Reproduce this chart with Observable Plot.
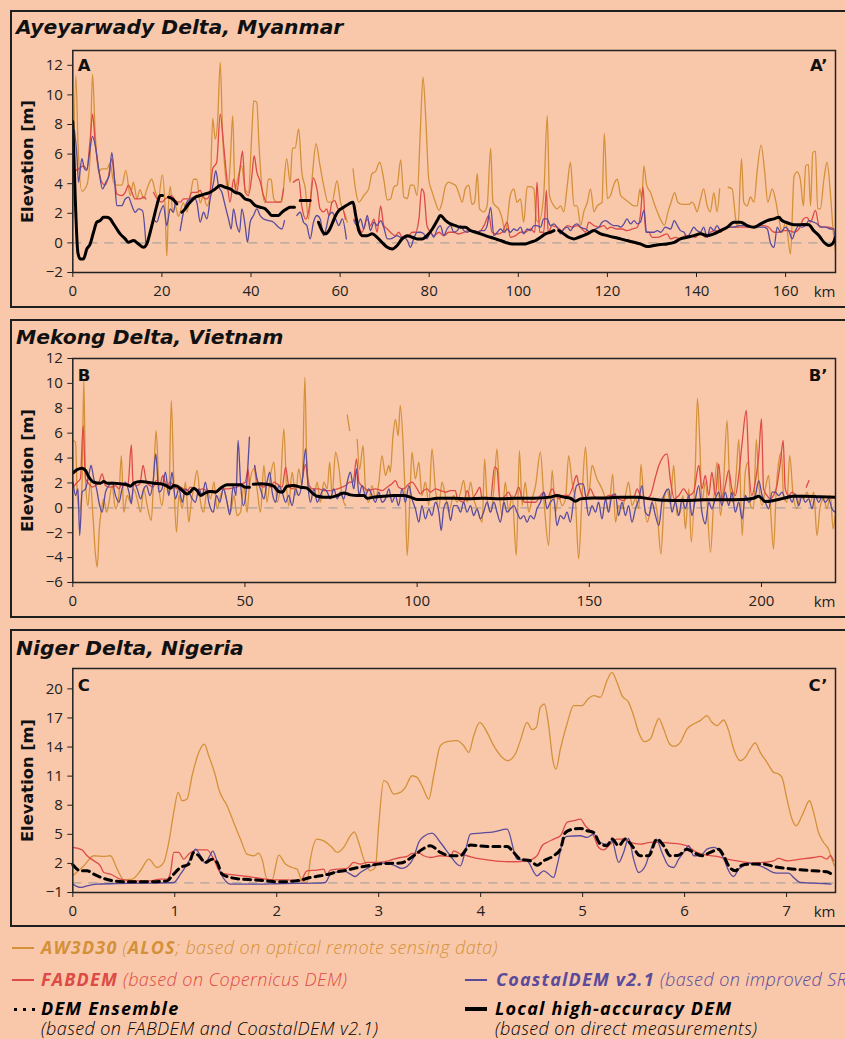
<!DOCTYPE html>
<html><head><meta charset="utf-8">
<script src="https://cdn.jsdelivr.net/npm/d3@7"></script>
<script src="https://cdn.jsdelivr.net/npm/@observablehq/plot@0.6"></script>
<style>
html,body{margin:0;padding:0;}
body{width:845px;height:1039px;background:#F9C8AB;overflow:hidden;position:relative;font-family:"Open Sans",sans-serif;}
.frame{position:absolute;left:10px;width:850px;border:2px solid #1f1f1f;box-sizing:border-box;}
.title{position:absolute;left:16px;font-family:"DejaVu Sans",sans-serif;font-weight:bold;font-style:italic;font-size:20.3px;line-height:18px;color:#111;white-space:nowrap;}
.plot{position:absolute;left:0;}
.plot svg{overflow:visible;}
.leg{position:absolute;font-family:"Open Sans",sans-serif;font-style:italic;font-weight:300;font-size:18px;line-height:18px;letter-spacing:0.4px;white-space:nowrap;}
.leg b{font-weight:bold;letter-spacing:1.2px;}
.sym{position:absolute;}
</style></head><body>
<div class="frame" style="top:10px;height:298px"></div>
<div class="frame" style="top:319px;height:299px"></div>
<div class="frame" style="top:629px;height:298px"></div>
<div class="title" style="top:18.2px">Ayeyarwady Delta, Myanmar</div>
<div class="title" style="top:328.2px">Mekong Delta, Vietnam</div>
<div class="title" style="top:639.2px">Niger Delta, Nigeria</div>
<div id="pA" class="plot" style="top:40px"></div>
<div id="pB" class="plot" style="top:348px"></div>
<div id="pC" class="plot" style="top:658px"></div>
<div id="legend"></div>
<script>
// ---------- colours ----------
const ORANGE = "#D4913A", RED = "#DE4A45", PURPLE = "#5A4B9B", BLACK = "#000000";

// ---------- Panel A : Ayeyarwady Delta (km, m) ----------
const A_xTicks = [0,20,40,60,80,100,120,140,160];
const A_yTicks = [-2,0,2,4,6,8,10,12];
const A_AW3D30 = [[0,1.7],[0.68,11.3],[1.2,6.5],[2.03,3.5],[3.15,3.9],[3.9,5.9],[4.42,11.4],[5.02,7.5],[5.77,4.8],[6.52,5.0],[7.64,5.0],[8.39,5.4],[9.14,4.1],[9.88,3.9],[11.0,3.9],[11.9,4.9],[12.9,3.2],[13.6,4.1],[14.4,3.0],[15.1,3.6],[15.9,3.0],[16.6,3.6],[17.7,4.3],[18.6,3.4],[19.2,3.0],[20.1,4.6],[20.7,2.5],[21.1,-0.9],[21.5,2.7],[21.9,3.8],[22.4,2.1],[23.0,2.5],[23.7,1.8],[24.8,2.7],[25.6,2.1],[26.3,3.0],[27.1,4.3],[27.8,4.3],[28.6,2.7],[29.3,3.2],[30.1,2.5],[30.8,3.2],[31.4,8.4],[32.0,7.0],[32.5,8.2],[33.1,12.2],[33.6,7.5],[34.2,4.8],[34.8,3.6],[35.3,5.2],[35.9,8.6],[36.4,3.6],[37.2,4.6],[37.9,5.2],[38.7,3.6],[39.4,3.4],[40.2,7.5],[40.6,9.6],[41.3,9.5],[41.8,6.6],[42.4,3.9],[43.2,2.7],[43.9,4.3],[44.5,4.3],[45.1,3.0],[45.8,2.75],[46.9,2.75],[48.0,5.7],[48.8,4.1],[49.3,6.4],[49.9,6.4],[50.7,7.7],[51.4,4.8],[52.2,3.65],[52.9,1.6],[53.7,4.3],[54.6,6.7],[55.5,5.2],[56.3,3.9],[57.3,2.75],[58.2,2.75],[59.3,4.2],[60.1,2.75],[61.0,2.0],[61.6,1.4],[62.2,null],[62.9,5.0],[63.45,3.65],[64.2,2.75],[65.3,3.2],[66.4,3.65],[67.2,4.7],[67.9,4.8],[68.9,5.45],[69.8,4.3],[70.6,2.9],[71.3,2.97],[72.1,3.8],[72.8,3.9],[73.6,5.6],[74.3,3.1],[75.1,3.0],[75.8,3.9],[76.5,3.9],[77.3,3.2],[78.0,7.5],[78.6,11.2],[79.2,8.6],[79.9,4.3],[80.7,3.4],[81.4,2.75],[82.2,2.2],[82.9,2.75],[83.7,3.9],[84.4,4.1],[85.2,4.0],[85.9,3.9],[86.6,3.4],[87.4,2.75],[88.1,3.65],[88.9,3.9],[89.6,2.6],[90.2,2.75],[90.8,4.7],[91.3,2.3],[92.3,2.1],[93.0,2.5],[93.8,6.4],[94.3,2.75],[94.9,2.5],[95.6,2.3],[96.4,1.6],[97.1,0.7],[98.2,3.2],[99.0,3.65],[99.7,2.75],[100.5,2.97],[101.2,1.4],[102.0,3.8],[102.7,3.8],[103.5,3.65],[104.0,1.6],[104.6,1.4],[105.7,3.2],[106.5,8.6],[107.0,3.2],[108.0,2.5],[108.7,2.3],[109.5,2.5],[110.2,2.1],[111.0,3.9],[111.7,5.45],[112.5,2.5],[113.2,2.5],[114.0,1.2],[114.7,2.1],[115.5,2.75],[116.2,3.65],[117.0,2.1],[117.7,2.5],[118.8,2.75],[119.3,7.4],[120.0,3.0],[120.7,3.2],[121.4,3.9],[122.2,4.3],[123.0,3.2],[123.7,3.0],[124.8,2.75],[126.0,2.5],[126.7,2.5],[127.3,3.65],[127.7,2.97],[128.2,5.2],[128.8,3.9],[129.7,3.4],[130.4,2.75],[131.2,2.1],[131.9,1.6],[132.8,1.2],[133.6,2.1],[134.3,2.75],[135.1,3.4],[135.8,2.75],[136.8,2.6],[138.3,2.6],[139.0,2.75],[139.6,2.5],[140.1,2.1],[140.9,2.97],[141.6,3.65],[142.4,2.5],[143.1,2.1],[143.9,3.4],[144.6,2.1],[145.2,3.65],[146.0,null],[147.1,3.76],[148.0,3.65],[148.8,1.6],[149.3,1.0],[150.1,5.7],[150.6,2.75],[151.4,2.5],[152.1,3.1],[152.9,2.75],[153.6,4.8],[154.5,6.6],[155.3,4.8],[156.0,2.75],[157.0,3.65],[157.7,2.97],[158.5,1.6],[159.2,0.7],[160.0,1.4],[161.1,-0.75],[161.9,4.5],[162.6,4.8],[163.3,4.3],[164.0,2.5],[164.5,5.2],[165.1,5.3],[165.6,2.5],[166.1,6.1],[166.7,6.2],[167.2,2.3],[167.8,2.3],[168.6,4.3],[169.3,5.45],[170.1,3.2],[170.7,0.7],[171.2,-0.6]];
const A_FABDEM = [[0.16,4.8],[1.28,5.0],[2.4,5.2],[3.15,5.0],[3.9,7.0],[4.42,8.7],[5.02,6.8],[5.77,5.0],[6.52,4.1],[7.27,3.9],[8.01,4.5],[8.76,5.7],[9.36,4.3],[9.88,3.3],[11.0,3.2],[11.76,3.42],[12.5,3.9],[13.25,3.42],[14.0,2.97],[15.1,2.97],[15.9,3.1],[16.4,2.97],[16.8,null],[18.1,3.42],[19.2,2.86],[20.0,2.75],[20.7,2.97],[21.5,3.1],[22.2,3.2],[23.0,2.86],[24.1,2.75],[24.85,2.97],[26.0,2.97],[26.7,3.42],[27.8,3.42],[28.6,3.54],[29.3,3.09],[30.1,2.97],[30.8,3.42],[31.4,5.0],[32.3,5.45],[33.1,8.7],[33.8,6.8],[34.6,4.3],[35.3,2.75],[36.1,4.3],[36.8,3.42],[37.6,5.2],[38.1,6.2],[38.7,3.42],[39.4,3.2],[40.2,4.55],[40.7,5.9],[41.3,4.8],[42.1,4.1],[42.8,3.2],[43.6,2.75],[44.3,2.75],[45.1,2.75],[45.8,2.75],[46.6,2.75],[47.3,3.65],[48.0,null],[49.5,4.1],[50.7,4.3],[51.4,2.5],[52.3,1.6],[53.3,2.75],[54.0,4.4],[54.8,3.65],[55.5,2.3],[56.3,2.1],[57.0,2.3],[57.5,1.85],[58.2,2.75],[58.8,2.86],[59.6,2.3],[60.5,2.3],[61.2,1.6],[62.0,null],[63.1,1.6],[63.8,1.4],[64.9,0.72],[66.1,1.6],[66.8,1.17],[67.6,1.6],[68.3,0.72],[69.1,2.5],[69.8,1.17],[70.6,0.94],[71.3,0.72],[72.4,0.49],[73.2,0.72],[73.9,0.38],[75.1,0.38],[76.2,0.72],[76.9,0.72],[77.7,1.62],[78.3,3.65],[78.8,3.42],[79.5,1.17],[80.3,0.72],[81.0,0.49],[82.2,0.72],[83.3,0.49],[84.4,0.72],[85.5,0.72],[86.6,0.6],[87.8,0.72],[88.9,0.83],[90.0,0.83],[91.1,0.72],[92.3,1.17],[93.4,1.85],[94.1,0.72],[95.3,0.6],[96.4,0.72],[97.5,1.4],[98.2,0.38],[99.4,0.49],[100.5,0.72],[101.6,0.72],[102.7,0.94],[103.7,0.72],[104.2,4.1],[104.8,0.72],[105.7,0.72],[106.3,3.54],[106.7,0.72],[107.6,1.17],[108.7,1.06],[109.8,0.83],[111.0,1.17],[112.1,1.06],[113.2,1.17],[114.3,0.94],[115.1,0.72],[115.8,1.40],[117.0,1.17],[118.1,1.06],[119.2,1.17],[120.0,0.94],[120.7,1.06],[122.2,0.94],[123.3,0.94],[124.4,0.83],[125.6,0.94],[126.7,1.06],[127.4,1.85],[128.0,3.76],[128.6,0.72],[129.3,0.72],[130.0,0.38],[131.2,0.38],[132.3,0.49],[133.4,0.61],[134.2,0.27],[135.3,0.38],[136.4,0.27],[137.5,0.49],[138.7,0.49],[139.8,0.38],[140.9,0.72],[142.0,0.38],[143.1,0.72],[144.3,0.83],[145.4,0.72],[146.5,1.0],[147.6,1.06],[149.1,1.06],[150.6,1.06],[152.1,1.06],[154.0,1.17],[155.1,1.17],[156.2,1.06],[157.4,0.72],[158.5,0.72],[159.6,0.83],[160.7,0.83],[161.9,0.72],[163.0,0.94],[164.0,1.62],[164.8,1.73],[165.6,1.40],[166.7,2.2],[167.5,1.17],[168.6,1.06],[169.7,1.06],[170.8,0.94]];
const A_CoastalDEM = [[0.38,7.6],[0.9,6.0],[1.28,4.1],[2.03,5.7],[2.63,5.0],[3.15,4.9],[3.67,5.9],[4.42,7.2],[5.17,6.35],[5.92,4.77],[6.67,3.65],[7.41,4.1],[8.16,4.55],[8.76,6.1],[9.36,4.33],[9.88,2.52],[11.0,2.52],[11.76,2.97],[12.5,3.09],[13.25,2.52],[14.0,2.07],[14.75,2.3],[15.65,2.18],[16.4,0.0],[16.8,null],[18.1,1.62],[18.86,1.4],[19.6,2.07],[20.36,2.52],[21.1,1.17],[21.86,2.3],[22.6,2.07],[23.0,2.75],[23.5,null],[24.1,0.83],[24.85,2.07],[25.6,2.75],[26.35,2.97],[27.1,3.09],[27.84,2.75],[28.6,1.4],[29.34,2.07],[30.1,1.62],[30.84,2.97],[31.6,4.1],[32.1,4.89],[32.7,3.87],[33.46,3.42],[34.2,2.52],[34.95,1.62],[35.55,0.94],[36.07,2.3],[36.82,1.17],[37.42,0.72],[37.94,2.3],[38.69,1.17],[39.21,0.04],[39.81,1.4],[40.56,1.85],[41.31,2.3],[42.06,1.85],[42.81,1.62],[43.93,1.51],[45.05,1.40],[46.17,1.06],[46.92,0.94],[47.52,1.51],[48.5,null],[50.29,1.85],[51.04,2.07],[51.79,1.40],[52.53,1.17],[53.28,0.27],[54.03,1.40],[54.78,1.85],[55.53,1.62],[56.28,0.49],[57.02,1.17],[57.5,1.85],[58.2,2.07],[59.0,1.62],[59.7,1.17],[60.5,1.62],[61.4,0.27],[62.0,null],[63.1,1.51],[63.8,1.17],[64.6,1.62],[65.3,0.94],[66.1,1.85],[66.8,0.83],[67.6,1.40],[68.3,1.17],[69.1,1.51],[69.8,1.06],[70.6,0.27],[71.3,0.27],[72.1,0.38],[72.8,0.49],[73.6,0.38],[74.3,0.38],[75.1,0.16],[75.8,-0.30],[76.5,0.27],[77.3,0.72],[78.0,0.72],[78.8,0.61],[79.5,0.27],[80.3,0.72],[81.0,0.38],[81.8,0.94],[82.5,1.17],[83.3,0.49],[84.0,0.94],[84.8,1.17],[85.5,0.72],[86.3,0.83],[87.0,1.17],[87.8,0.83],[88.5,0.72],[89.3,0.83],[90.0,0.72],[90.8,0.72],[91.5,0.83],[92.3,0.83],[93.0,1.17],[93.8,2.4],[94.5,0.49],[95.3,0.72],[96.0,0.94],[96.8,0.72],[97.5,0.94],[98.2,0.72],[99.0,0.94],[99.7,0.83],[100.5,1.06],[101.2,0.61],[102.0,0.94],[102.7,0.83],[103.5,1.17],[104.2,1.17],[105.0,1.06],[105.7,1.62],[106.5,1.62],[107.2,1.17],[108.0,1.28],[108.7,1.06],[109.5,0.61],[110.2,0.94],[111.0,1.06],[111.7,0.83],[112.5,1.17],[113.2,1.28],[114.0,1.06],[115.1,0.94],[116.2,0.72],[117.3,0.94],[118.1,1.06],[118.8,1.40],[119.6,1.51],[120.7,1.28],[121.4,1.17],[122.2,1.17],[123.0,1.06],[123.7,1.28],[124.4,1.62],[125.2,1.28],[126.0,1.51],[126.7,1.28],[127.4,1.40],[128.2,2.2],[128.8,0.72],[129.7,0.72],[130.4,0.72],[131.2,0.83],[132.0,0.72],[133.0,1.06],[134.2,0.94],[135.0,1.51],[135.7,1.17],[136.4,0.83],[137.2,0.72],[137.9,0.38],[138.7,0.72],[139.4,1.06],[140.1,0.83],[140.9,0.72],[141.6,1.06],[142.4,0.38],[143.1,1.06],[143.9,0.83],[144.6,1.17],[145.4,0.83],[146.1,0.94],[147.3,1.06],[148.4,1.06],[149.5,1.17],[150.6,1.17],[151.7,1.06],[152.9,1.06],[154.0,1.06],[155.1,1.06],[155.9,0.94],[156.6,0.0],[157.4,-0.30],[158.1,1.06],[158.9,0.72],[160.0,1.06],[160.7,0.83],[161.5,0.27],[162.2,0.83],[163.0,1.17],[163.7,1.06],[164.5,1.17],[165.2,1.51],[166.3,1.40],[167.1,1.28],[167.8,1.06],[169.0,1.06],[170.1,0.94],[170.8,0.94],[171.2,-0.2]];
const A_Local = [[0.0,8.2],[0.53,3.2],[1.13,-0.63],[1.65,-1.08],[2.4,-1.08],[3.15,-0.41],[3.9,-0.07],[4.65,0.72],[5.4,1.40],[6.14,1.51],[6.89,1.73],[7.64,1.73],[8.39,1.62],[9.14,1.28],[9.88,0.94],[10.63,0.61],[11.76,0.27],[12.5,0.04],[13.63,0.16],[14.75,-0.07],[15.87,-0.30],[16.62,-0.07],[17.37,0.72],[18.12,1.62],[18.86,2.52],[19.61,3.20],[20.14,3.20],[20.8,null],[21.48,3.09],[22.38,2.97],[23.35,2.63],[23.9,null],[24.48,2.07],[25.22,2.30],[25.97,2.63],[26.72,2.86],[27.47,3.09],[28.59,3.20],[29.71,3.31],[30.84,3.42],[31.96,3.65],[33.08,3.87],[34.2,3.76],[35.32,3.65],[36.45,3.42],[37.57,3.31],[38.69,2.97],[39.81,2.86],[40.94,2.52],[42.06,2.41],[43.18,2.30],[43.93,2.07],[44.68,1.85],[45.43,1.85],[46.17,1.85],[46.92,2.07],[48.04,2.30],[48.79,2.41],[49.76,2.41],[50.3,null],[51.04,2.86],[53.28,2.86],[54.2,null],[55.15,1.40],[56.65,0.61],[57.5,0.83],[58.2,1.28],[59.0,1.85],[59.7,2.18],[60.8,2.41],[61.96,2.63],[62.9,2.75],[63.5,1.85],[64.2,0.83],[65.0,0.49],[66.1,0.49],[67.2,0.61],[68.3,0.38],[69.4,0.04],[70.6,-0.30],[71.7,-0.41],[72.8,-0.18],[73.9,0.27],[75.1,0.49],[76.2,0.38],[77.3,0.27],[78.4,0.27],[79.5,0.49],[80.7,0.94],[81.8,1.51],[82.5,1.85],[83.7,1.51],[84.8,1.28],[85.9,1.17],[87.0,1.06],[88.1,1.06],[89.3,0.83],[90.4,0.72],[91.5,0.61],[92.6,0.49],[93.8,0.38],[94.9,0.27],[96.0,0.16],[97.1,0.04],[98.6,-0.07],[100.1,-0.07],[101.6,-0.07],[102.7,0.04],[103.9,0.16],[105.0,0.38],[106.1,0.61],[107.2,0.72],[108.0,0.83],[108.5,null],[109.1,0.83],[110.2,0.61],[111.3,0.38],[112.5,0.27],[113.6,0.38],[115.5,0.61],[117.0,0.83],[118.5,0.61],[120.0,0.49],[121.4,0.38],[123.0,0.27],[124.4,0.16],[126.0,0.04],[127.4,-0.07],[129.0,-0.25],[130.4,-0.18],[131.9,-0.11],[133.4,-0.07],[135.0,0.04],[136.4,0.27],[137.9,0.38],[139.4,0.49],[140.9,0.61],[142.4,0.49],[143.9,0.61],[145.4,0.83],[146.9,1.06],[148.4,1.40],[149.9,1.40],[151.4,1.17],[152.9,1.06],[154.4,1.28],[155.9,1.51],[157.4,1.62],[158.5,1.73],[159.2,1.51],[160.0,1.40],[161.1,1.28],[162.6,1.22],[164.1,1.25],[165.2,1.22],[166.3,0.83],[167.5,0.49],[168.6,0.04],[169.7,-0.18],[170.5,-0.07],[171.2,0.38]];

// ---------- Panel B : Mekong Delta (km, m) ----------
const B_xTicks = [0,50,100,150,200];
const B_yTicks = [-6,-4,-2,0,2,4,6,8,10,12];
const B_AW3D30 = [[0.1,5.41],[0.8,5.27],[1.3,0.99],[2.0,-0.35],[2.7,2.06],[3.2,10.36],[3.7,2.06],[4.4,0.18],[5.1,2.06],[5.9,-0.89],[6.6,-3.83],[7.1,-4.77],[7.7,-1.69],[8.2,-0.35],[9.0,0.72],[9.8,-0.35],[10.5,0.45],[11.4,1.79],[12.4,-0.08],[13.4,0.99],[14.1,4.20],[14.8,-0.35],[15.8,0.99],[16.8,0.45],[17.7,1.52],[18.7,0.72],[19.7,-0.35],[20.6,1.52],[21.6,0.18],[22.8,-1.02],[23.5,2.60],[24.2,6.21],[25.0,1.79],[25.9,0.18],[26.9,2.06],[27.9,0.99],[28.6,8.62],[29.3,2.60],[30.1,-1.96],[30.8,0.99],[31.8,-0.08],[32.7,2.06],[33.7,-1.15],[34.4,0.45],[35.1,1.52],[36.1,3.0],[37.1,0.45],[38.0,-0.35],[39.0,1.52],[40.0,0.72],[41.0,2.06],[41.9,-0.08],[42.9,0.99],[43.9,1.52],[44.8,0.45],[45.8,-0.35],[46.8,0.99],[47.7,-0.62],[48.7,-0.35],[49.7,1.79],[50.6,-0.35],[51.3,1.8],[52.6,3.13],[53.5,1.52],[54.5,-0.35],[55.5,3.40],[56.4,0.45],[57.4,2.60],[58.4,3.67],[59.3,0.45],[60.3,1.79],[61.3,6.35],[62.0,2.06],[62.7,0.18],[63.7,2.86],[64.7,0.99],[65.6,3.13],[66.6,1.79],[67.4,10.50],[68.0,3.13],[69.0,1.52],[70.0,0.99],[71.0,2.06],[71.9,0.45],[72.9,2.06],[73.9,1.52],[74.6,3.67],[75.3,0.99],[76.3,4.47],[77.2,3.40],[78.2,0.99],[79.2,0.18],[79.5,null],[79.7,7.47],[80.4,6.21],[80.6,null],[82.6,5.5],[83.3,3.1],[84.3,5.0],[85.0,1.52],[85.9,0.45],[86.9,1.79],[87.9,0.72],[88.9,2.06],[89.8,4.20],[90.8,2.6],[91.8,3.40],[92.2,2.86],[93.0,5.8],[93.7,7.1],[94.5,5.8],[95.1,8.22],[95.9,5.3],[96.6,0.45],[97.1,-3.83],[97.9,0.72],[98.5,4.47],[99.5,2.33],[100.5,3.67],[101.4,0.99],[102.4,2.06],[103.4,0.18],[104.3,4.74],[105.3,1.52],[106.3,-0.08],[107.2,2.06],[108.2,0.99],[109.2,-0.35],[110.6,0.99],[111.6,0.45],[112.6,1.26],[113.5,2.2],[114.5,0.45],[115.5,2.06],[116.4,0.72],[117.4,-0.08],[118.9,-1.15],[119.6,3.94],[120.3,0.72],[121.3,-0.35],[122.3,1.52],[123.2,4.74],[124.0,0.72],[124.7,-0.62],[125.6,2.06],[126.6,-0.35],[127.6,0.99],[128.8,-3.83],[129.7,4.6],[130.5,0.18],[131.4,2.06],[132.4,-0.35],[133.4,0.72],[134.4,1.79],[135.8,4.47],[136.8,0.72],[138.2,-3.03],[139.2,3.0],[140.2,-0.35],[141.1,0.99],[142.1,0.18],[143.1,0.72],[144.0,4.20],[145.0,2.06],[146.0,0.45],[146.9,-4.10],[147.9,0.99],[148.9,4.9],[149.8,0.99],[150.8,3.40],[152.2,2.33],[153.7,1.52],[154.7,0.72],[155.6,-0.35],[156.8,2.7],[157.6,-1.15],[158.5,0.18],[159.5,-0.08],[160.5,0.99],[161.4,2.06],[162.4,0.18],[163.4,0.72],[164.4,-0.08],[165.0,3.5],[165.8,0.72],[166.8,-1.15],[167.7,-0.35],[168.7,0.72],[169.7,-0.35],[170.8,-3.7],[171.8,0.72],[172.6,1.52],[173.5,0.3],[174.5,3.40],[175.5,-0.62],[176.4,-0.35],[177.2,0.99],[177.9,-1.69],[178.9,1.52],[179.6,-2.76],[180.8,3.40],[181.4,8.8],[182.1,5.14],[182.7,0.45],[183.7,2.06],[185.2,-3.57],[186.1,0.45],[187.1,3.67],[188.1,-0.62],[189.0,2.06],[190.0,7.0],[190.8,1.79],[191.7,0.45],[192.7,2.86],[193.4,5.5],[194.4,-2.22],[195.3,2.86],[196.1,3.67],[196.8,0.18],[197.7,-0.08],[198.5,5.5],[199.2,2.06],[200.2,0.18],[201.1,1.52],[202.1,2.60],[202.8,-0.89],[203.5,-3.3],[204.3,1.52],[205.0,3.67],[205.8,4.47],[206.4,0.99],[207.4,0.45],[208.2,4.20],[209.2,0.99],[210.3,-0.08],[211.3,0.99],[212.3,0.72],[213.2,1.26],[214.2,0.45],[215.2,1.26],[216.1,-2.22],[217.1,0.18],[218.1,0.72],[219.0,-0.08],[220.0,0.99],[220.8,-1.69],[221.4,-0.62]];
const B_FABDEM = [[0.1,1.66],[1.3,2.06],[2.2,2.33],[3.0,6.61],[3.7,2.33],[4.7,1.93],[5.6,1.66],[6.6,1.79],[7.6,2.06],[8.5,2.73],[9.5,1.79],[10.5,1.66],[11.4,1.66],[12.4,1.79],[13.4,1.52],[14.3,1.93],[15.3,1.79],[16.0,1.79],[17.0,5.06],[17.5,2.06],[18.5,1.79],[19.5,1.93],[20.4,3.40],[21.4,2.06],[22.4,1.79],[23.3,1.66],[24.3,2.2],[25.3,1.93],[26.2,2.60],[27.2,1.66],[28.2,2.06],[29.3,1.79],[30.3,1.52],[31.3,1.66],[32.2,1.52],[33.2,1.39],[34.2,1.66],[35.1,1.52],[36.1,1.39],[37.6,1.52],[39.0,1.39],[40.5,1.39],[41.9,1.39],[43.4,1.52],[44.8,1.52],[46.3,1.58],[47.7,1.66],[49.2,1.93],[50.1,2.06],[50.9,3.1],[51.3,1.79],[51.8,null],[52.8,3.40],[53.5,2.2],[54.5,1.79],[55.5,1.66],[56.4,1.93],[57.4,1.66],[58.4,2.06],[59.3,1.93],[60.8,1.66],[61.8,3.27],[62.7,1.79],[63.7,1.52],[64.7,1.66],[66.1,1.66],[67.6,3.5],[68.5,1.79],[70.0,1.52],[71.4,1.52],[72.9,1.39],[74.8,1.39],[76.8,1.52],[78.2,1.66],[79.2,1.79],[80.4,2.06],[81.4,2.06],[82.4,3.94],[83.1,2.06],[84.5,1.66],[85.9,1.39],[87.9,1.52],[89.8,1.39],[91.3,1.66],[92.7,1.93],[93.7,2.19],[94.6,1.66],[96.1,1.52],[97.6,1.93],[98.5,2.06],[100.0,1.52],[100.9,1.12],[101.9,1.39],[102.9,1.52],[103.9,1.26],[105.3,1.52],[106.8,1.39],[108.2,1.26],[109.7,1.39],[111.1,1.39],[111.6,0.86],[113.5,0.45],[114.5,1.39],[115.5,0.72],[116.4,0.86],[117.4,1.3],[118.2,1.66],[118.9,0.72],[119.8,0.86],[121.3,0.72],[122.5,3.27],[123.2,3.13],[124.0,0.72],[125.2,0.86],[126.6,1.26],[127.6,0.72],[128.5,0.99],[129.5,1.66],[130.5,0.72],[131.4,0.45],[132.9,0.45],[134.4,0.45],[135.8,0.99],[136.8,1.26],[137.7,0.72],[139.2,1.52],[140.2,0.99],[141.1,0.72],[142.6,0.99],[144.0,0.99],[145.0,1.52],[146.3,2.60],[146.9,1.93],[147.9,0.99],[148.9,0.72],[150.3,1.52],[151.3,0.99],[152.7,0.72],[154.2,0.72],[155.6,0.99],[157.1,0.99],[158.5,0.72],[159.9,0.59],[161.4,0.86],[162.9,0.86],[163.9,1.52],[164.8,0.99],[166.3,0.72],[167.7,0.99],[169.2,2.46],[170.2,3.40],[172.6,4.34],[173.5,2.33],[174.7,0.72],[176.0,0.99],[177.4,1.52],[178.9,0.99],[180.3,1.26],[181.8,3.40],[182.7,1.52],[183.7,2.60],[184.7,0.99],[185.6,2.86],[186.6,0.99],[187.6,3.54],[188.5,0.72],[189.5,1.79],[190.5,3.0],[191.4,1.52],[192.4,0.99],[193.4,2.60],[194.4,5.27],[195.6,7.82],[196.3,3.40],[197.2,0.99],[198.2,2.06],[199.2,4.20],[200.0,7.15],[200.6,1.52],[201.6,0.99],[202.6,0.72],[203.5,0.99],[204.5,1.79],[205.5,3.67],[206.3,5.41],[206.9,1.52],[207.9,0.99],[208.9,1.26],[210.3,0.72],[210.6,null],[213.0,1.66],[213.8,2.19]];
const B_CoastalDEM = [[0.1,2.06],[0.8,0.99],[1.5,1.52],[2.0,-2.22],[2.7,1.26],[3.7,1.52],[4.7,2.73],[5.3,3.40],[6.1,2.33],[6.9,1.52],[7.6,0.45],[8.5,-0.35],[9.5,1.26],[10.5,1.79],[11.4,2.06],[12.4,0.99],[13.4,0.45],[14.3,1.52],[15.3,2.06],[16.3,1.26],[17.0,0.32],[17.7,2.06],[18.7,1.52],[19.7,0.72],[20.6,1.52],[21.4,1.79],[22.4,0.99],[23.3,2.06],[24.1,4.34],[25.0,1.26],[25.9,1.52],[26.9,2.86],[27.9,0.99],[28.8,2.86],[29.8,0.72],[30.8,1.52],[31.8,0.45],[32.7,1.52],[33.7,1.26],[34.7,0.72],[35.6,0.45],[36.6,1.52],[37.6,0.99],[38.5,2.06],[39.5,0.45],[40.8,-0.35],[41.7,0.99],[42.7,0.45],[43.7,1.52],[44.6,0.72],[45.6,-0.57],[46.6,1.79],[47.4,0.99],[48.0,5.41],[48.7,2.06],[49.5,0.18],[50.4,1.52],[51.3,5.68],[51.8,null],[52.8,3.40],[53.5,2.33],[54.5,1.52],[55.5,0.72],[56.4,2.06],[57.2,2.86],[57.9,1.26],[58.9,0.45],[59.8,1.79],[60.8,1.26],[61.8,0.45],[62.7,0.99],[63.7,0.18],[64.7,1.52],[65.6,0.99],[66.6,2.06],[67.6,4.74],[68.3,1.79],[69.0,0.45],[70.0,1.52],[71.0,0.45],[71.9,0.99],[72.9,1.52],[73.9,1.26],[74.8,0.72],[75.8,1.52],[76.8,0.72],[77.7,1.26],[78.7,0.72],[79.7,2.06],[80.6,2.86],[81.6,1.52],[82.4,3.13],[83.1,0.99],[84.0,1.79],[85.0,0.99],[85.9,1.52],[86.9,0.99],[87.9,0.45],[88.9,1.26],[89.8,0.45],[90.8,0.72],[91.8,1.52],[92.7,0.45],[93.7,0.99],[94.6,0.18],[95.6,1.52],[96.6,0.45],[97.6,1.79],[98.5,0.72],[99.5,-0.08],[100.5,-1.15],[101.4,0.18],[102.4,-0.89],[103.4,-0.08],[104.3,-0.62],[105.3,0.45],[106.3,-0.35],[107.0,-1.82],[107.7,-0.08],[108.7,0.45],[109.7,-1.02],[110.6,0.18],[111.6,0.18],[112.6,-0.35],[113.5,0.45],[114.5,-0.35],[115.5,0.18],[116.4,-0.62],[117.4,-0.08],[118.4,-0.89],[119.3,-0.35],[120.3,0.45],[121.3,-0.35],[122.3,0.45],[123.2,-0.35],[124.2,-1.15],[125.2,0.45],[126.1,-0.35],[127.1,-0.08],[128.1,0.18],[129.0,-0.35],[130.0,-0.89],[131.0,-0.62],[131.9,-1.15],[132.9,-0.62],[133.9,-0.89],[134.8,-0.08],[135.8,0.45],[136.8,1.26],[137.7,-0.08],[138.7,0.45],[139.7,0.72],[140.6,-1.42],[141.6,-0.62],[142.6,-0.89],[143.5,-0.35],[144.5,-1.15],[145.5,0.72],[146.3,1.79],[147.2,1.93],[148.2,1.93],[148.9,0.99],[149.8,-0.62],[150.8,0.18],[151.8,-0.35],[152.7,0.45],[153.7,-0.89],[154.7,0.72],[155.6,-0.35],[156.6,0.99],[157.6,1.12],[158.5,-0.62],[159.5,0.45],[160.5,-0.62],[161.4,0.18],[162.4,-1.15],[163.4,-0.08],[164.4,0.72],[165.3,1.79],[166.3,-0.35],[167.3,-0.62],[168.2,0.45],[169.2,-0.62],[170.2,-1.42],[171.1,0.45],[172.1,1.26],[173.1,1.52],[174.0,-0.35],[175.0,0.45],[176.0,-0.62],[176.9,0.72],[177.9,-0.08],[178.9,0.99],[179.8,-0.62],[180.8,0.72],[181.8,1.79],[182.7,-0.35],[183.7,-1.29],[184.7,0.45],[185.6,-0.08],[186.6,0.72],[187.6,1.26],[188.5,0.18],[189.5,1.26],[190.5,0.18],[191.4,1.26],[192.4,-0.35],[193.4,0.45],[194.4,-0.89],[195.3,0.99],[196.3,0.45],[197.2,0.72],[198.2,0.99],[199.2,2.19],[200.2,0.99],[201.1,0.45],[202.1,-0.08],[203.1,1.26],[204.0,1.26],[205.0,0.99],[206.0,1.26],[206.9,0.72],[207.9,0.99],[208.9,0.45],[209.8,1.12],[210.8,0.18],[211.8,0.99],[212.7,0.45],[213.7,0.72],[214.7,-0.08],[215.6,0.99],[216.6,0.45],[217.6,0.86],[218.5,0.45],[219.5,0.72],[220.5,-0.08],[221.4,-0.35]];
const B_Local = [[0.1,2.81],[1.3,3.08],[2.7,3.19],[3.7,3.0],[4.7,2.46],[6.1,2.06],[8.0,1.98],[9.0,2.11],[10.0,1.98],[11.9,1.98],[13.8,1.93],[15.8,1.85],[16.8,1.74],[17.7,1.98],[19.7,2.11],[21.6,2.06],[23.5,1.98],[25.5,1.93],[27.4,1.74],[28.4,1.58],[29.3,1.79],[30.3,1.74],[31.8,1.39],[33.2,1.12],[34.2,1.31],[35.1,1.58],[36.1,1.39],[37.1,0.99],[38.5,1.20],[40.0,1.31],[41.4,1.26],[42.9,1.58],[44.8,1.85],[46.8,1.85],[48.7,1.85],[50.1,1.66],[51.3,1.66],[51.8,null],[52.4,1.9],[54.5,1.93],[56.4,1.9],[58.4,1.74],[59.8,1.31],[60.8,1.26],[62.2,1.74],[64.2,1.79],[66.1,1.66],[68.0,1.58],[69.5,1.20],[71.0,0.93],[72.9,0.86],[74.8,0.86],[76.8,0.99],[78.7,1.20],[80.6,1.04],[82.6,0.99],[84.5,0.99],[85.5,0.77],[87.4,0.86],[90.3,0.93],[93.2,0.99],[96.1,0.99],[98.0,0.86],[100.0,0.67],[102.9,0.67],[105.8,0.77],[110.6,0.77],[114.5,0.72],[119.3,0.77],[124.2,0.72],[129.0,0.77],[133.9,0.77],[138.7,0.86],[140.6,0.99],[142.6,0.86],[144.5,0.77],[146.0,0.53],[147.4,0.72],[151.3,0.80],[155.2,0.80],[159.0,0.86],[163.9,0.86],[167.7,0.72],[171.6,0.61],[177.4,0.59],[183.2,0.64],[189.0,0.64],[194.8,0.67],[197.7,0.77],[199.2,0.93],[201.1,0.51],[203.5,0.59],[206.4,0.77],[209.4,0.93],[212.3,0.93],[216.1,0.9],[221.4,0.86]];

// ---------- Panel C : Niger Delta (km, m) ----------
const C_xTicks = [0,1,2,3,4,5,6,7];
const C_yTicks = [-1,2,5,8,11,14,17,20];
const C_AW3D30 = [[0,0.72],[0.108,1.75],[0.206,2.79],[0.304,2.72],[0.369,2.79],[0.435,1.41],[0.5,0.31],[0.582,0.38],[0.663,1.24],[0.745,2.44],[0.827,1.58],[0.892,2.10],[0.941,4.16],[0.990,7.26],[1.033,9.32],[1.072,8.46],[1.121,8.64],[1.170,11.04],[1.235,13.45],[1.291,14.31],[1.333,13.11],[1.399,11.04],[1.431,9.67],[1.513,7.95],[1.578,6.23],[1.644,4.51],[1.709,2.96],[1.775,2.79],[1.824,3.06],[1.856,2.44],[1.905,0.38],[1.954,0.31],[2.020,2.85],[2.085,1.93],[2.150,1.58],[2.199,1.41],[2.248,0.20],[2.297,0.03],[2.330,2.44],[2.395,4.51],[2.461,4.33],[2.542,3.65],[2.592,3.13],[2.657,3.65],[2.722,4.85],[2.761,5.26],[2.804,4.16],[2.853,2.44],[2.918,1.24],[2.967,1.58],[3.0,5.88],[3.049,10.53],[3.082,10.36],[3.147,9.15],[3.212,9.32],[3.261,9.84],[3.327,11.04],[3.376,10.87],[3.425,10.01],[3.491,8.64],[3.540,11.04],[3.605,14.14],[3.670,14.55],[3.768,14.66],[3.834,14.14],[3.883,13.45],[3.932,15.17],[3.991,16.55],[4.063,15.52],[4.128,14.14],[4.210,12.94],[4.265,12.59],[4.340,13.28],[4.389,14.66],[4.455,16.55],[4.504,15.79],[4.546,16.03],[4.585,18.10],[4.625,18.44],[4.667,16.21],[4.706,12.76],[4.739,11.73],[4.782,13.80],[4.847,16.38],[4.912,18.27],[4.994,18.27],[5.059,19.03],[5.108,19.30],[5.174,19.13],[5.239,20.85],[5.288,21.71],[5.337,20.68],[5.386,19.30],[5.451,18.61],[5.500,17.24],[5.549,15.52],[5.605,14.55],[5.664,14.83],[5.713,16.21],[5.746,16.96],[5.795,15.86],[5.844,14.49],[5.893,14.07],[5.958,14.49],[6.023,15.86],[6.089,16.38],[6.154,16.72],[6.219,17.24],[6.268,16.55],[6.317,16.21],[6.383,16.79],[6.432,15.69],[6.481,13.80],[6.546,12.59],[6.595,12.94],[6.644,13.80],[6.693,14.42],[6.742,13.45],[6.808,12.42],[6.873,11.39],[6.922,11.22],[6.955,10.87],[7.004,8.64],[7.053,6.57],[7.095,5.88],[7.151,6.91],[7.226,8.46],[7.265,7.26],[7.314,5.19],[7.363,4.16],[7.412,3.47],[7.445,2.44],[7.468,1.75]];
const C_FABDEM = [[0,3.65],[0.09,3.40],[0.14,2.79],[0.206,2.27],[0.27,1.75],[0.304,1.06],[0.369,0.89],[0.467,0.38],[0.598,0.20],[0.761,0.20],[0.859,0.38],[0.925,0.38],[0.958,1.06],[0.990,3.13],[1.039,3.13],[1.088,2.44],[1.137,2.96],[1.219,3.40],[1.317,3.40],[1.382,2.44],[1.448,1.06],[1.513,0.89],[1.578,0.82],[1.709,0.65],[1.840,0.45],[1.971,0.31],[2.101,0.31],[2.232,0.20],[2.297,1.24],[2.395,1.31],[2.461,1.41],[2.490,0.79],[2.526,1.31],[2.592,1.41],[2.690,1.48],[2.755,2.10],[2.820,1.93],[2.886,2.10],[2.984,2.10],[3.082,2.23],[3.147,2.44],[3.212,2.61],[3.278,2.72],[3.327,3.03],[3.392,3.06],[3.441,2.79],[3.507,2.61],[3.605,2.79],[3.703,2.72],[3.736,3.30],[3.801,2.96],[3.866,2.79],[3.965,2.51],[4.063,2.37],[4.193,2.20],[4.324,2.17],[4.455,2.27],[4.553,2.79],[4.602,3.82],[4.651,4.16],[4.716,4.51],[4.782,4.85],[4.847,6.23],[4.912,6.40],[4.978,6.57],[5.027,5.88],[5.076,5.37],[5.108,4.85],[5.157,3.65],[5.206,3.40],[5.272,3.99],[5.337,4.51],[5.402,4.51],[5.468,4.16],[5.566,3.99],[5.664,4.16],[5.762,4.16],[5.860,4.09],[5.958,3.99],[6.023,3.82],[6.121,3.13],[6.219,2.85],[6.317,2.72],[6.416,2.44],[6.514,2.27],[6.611,2.10],[6.677,2.03],[6.775,2.10],[6.873,2.27],[6.922,2.51],[7.004,2.27],[7.134,2.44],[7.265,2.61],[7.331,2.72],[7.396,2.44],[7.429,2.79],[7.461,2.27]];
const C_CoastalDEM = [[0,-0.14],[0.075,-0.48],[0.14,-0.31],[0.239,-0.14],[0.435,-0.07],[0.761,-0.04],[0.990,0.03],[1.056,0.89],[1.121,1.93],[1.170,2.79],[1.203,3.47],[1.252,2.79],[1.301,2.03],[1.343,2.79],[1.373,3.27],[1.408,2.44],[1.448,1.06],[1.497,0.20],[1.546,-0.14],[1.742,-0.14],[2.069,-0.07],[2.395,-0.04],[2.477,0.03],[2.526,0.89],[2.592,1.13],[2.657,1.24],[2.722,0.89],[2.771,0.65],[2.820,1.06],[2.886,1.48],[2.951,1.82],[3.016,2.03],[3.082,2.03],[3.147,1.82],[3.229,1.48],[3.278,1.68],[3.343,2.61],[3.392,4.16],[3.441,4.78],[3.523,5.13],[3.605,4.16],[3.703,2.79],[3.768,1.93],[3.801,1.75],[3.850,3.3],[3.899,5.02],[4.000,5.13],[4.128,5.26],[4.259,5.54],[4.357,2.44],[4.455,2.27],[4.553,0.72],[4.618,1.24],[4.716,0.55],[4.749,1.75],[4.814,4.51],[4.847,4.78],[4.978,4.85],[5.043,4.68],[5.108,5.02],[5.174,4.16],[5.239,3.99],[5.288,4.33],[5.353,2.10],[5.402,3.13],[5.451,4.57],[5.500,2.44],[5.549,1.06],[5.615,1.75],[5.664,3.30],[5.723,4.51],[5.778,3.13],[5.844,1.75],[5.893,1.58],[5.942,2.44],[5.991,3.13],[6.040,3.82],[6.089,2.79],[6.154,2.79],[6.219,3.47],[6.285,3.65],[6.350,3.13],[6.399,2.10],[6.432,1.24],[6.481,0.65],[6.530,1.41],[6.579,1.75],[6.628,2.03],[6.677,1.93],[6.742,1.75],[6.808,1.41],[6.873,1.06],[6.938,1.0],[7.020,1.0],[7.069,0.55],[7.134,0.03],[7.265,-0.04],[7.363,-0.07],[7.435,-0.14]];
const C_Ensemble = [[0,1.86],[0.075,1.24],[0.14,1.24],[0.206,0.89],[0.304,0.45],[0.402,0.20],[0.533,0.10],[0.696,0.10],[0.859,0.14],[0.925,0.20],[0.974,0.72],[1.056,1.58],[1.137,1.93],[1.186,3.13],[1.235,2.79],[1.301,2.10],[1.366,2.44],[1.415,2.10],[1.464,0.89],[1.546,0.55],[1.644,0.38],[1.775,0.31],[1.905,0.20],[2.003,0.10],[2.134,0.14],[2.232,0.27],[2.330,0.55],[2.428,0.72],[2.510,0.89],[2.592,1.13],[2.690,1.31],[2.755,1.48],[2.853,1.68],[2.951,1.86],[3.082,2.0],[3.212,2.03],[3.343,2.79],[3.441,3.54],[3.507,3.82],[3.605,3.13],[3.703,2.79],[3.801,2.79],[3.899,3.89],[4.063,3.75],[4.259,3.75],[4.324,3.13],[4.389,2.44],[4.487,2.27],[4.553,1.82],[4.618,2.27],[4.716,2.79],[4.782,3.47],[4.831,5.19],[4.912,5.54],[4.978,5.61],[5.043,5.37],[5.108,5.19],[5.174,3.99],[5.239,3.82],[5.288,4.51],[5.353,3.82],[5.419,4.51],[5.484,3.82],[5.566,2.79],[5.648,2.79],[5.729,4.51],[5.795,3.82],[5.860,2.79],[5.942,2.85],[6.023,3.47],[6.089,3.13],[6.170,2.79],[6.252,3.13],[6.334,3.47],[6.383,2.79],[6.432,1.75],[6.497,1.24],[6.563,1.82],[6.661,1.93],[6.775,1.93],[6.873,1.68],[7.004,1.48],[7.134,1.34],[7.265,1.24],[7.396,1.13],[7.468,0.65]];

// ---------- drawing ----------
function panel(el, o) {
  const thin = 1.3;
  const marks = [
    Plot.ruleY([0], {stroke: "#a9a29d", strokeWidth: 1.3, strokeDasharray: "9,7"}),
    Plot.line(o.aw, {x: d => d[0], y: d => d[1], stroke: ORANGE, strokeWidth: thin, curve: "monotone-x", clip: true}),
    Plot.line(o.fab, {x: d => d[0], y: d => d[1], stroke: RED, strokeWidth: thin, curve: "monotone-x", clip: true}),
    Plot.line(o.cd, {x: d => d[0], y: d => d[1], stroke: PURPLE, strokeWidth: thin, curve: "monotone-x", clip: true})
  ];
  if (o.ens) marks.push(Plot.line(o.ens, {x: d => d[0], y: d => d[1], stroke: BLACK, strokeWidth: 3, strokeDasharray: "7,5", curve: "monotone-x"}));
  if (o.loc) marks.push(Plot.line(o.loc, {x: d => d[0], y: d => d[1], stroke: BLACK, strokeWidth: 3, curve: "monotone-x", clip: true}));
  marks.push(
    Plot.frame({stroke: "#222", strokeWidth: 1.5}),
    Plot.text([o.left], {frameAnchor: "top-left", dx: 5, dy: o.labDy, textAnchor: "start", lineAnchor: "top", fontFamily: "DejaVu Sans, sans-serif", fontWeight: "bold", fontSize: 16.5, fill: "#111"}),
    Plot.text([o.right], {frameAnchor: "top-right", dx: -8, dy: o.labDy, textAnchor: "end", lineAnchor: "top", fontFamily: "DejaVu Sans, sans-serif", fontWeight: "bold", fontSize: 16.5, fill: "#111"}),
    Plot.text(["km"], {frameAnchor: "bottom-right", dy: 20, textAnchor: "end", lineAnchor: "middle", fontSize: 15, fill: "#222"}),
    Plot.text(["Elevation [m]"], {frameAnchor: "left", dx: -45, rotate: -90, textAnchor: "middle", lineAnchor: "middle", fontFamily: "DejaVu Sans, sans-serif", fontWeight: "bold", fontSize: 16.3, fill: "#111"})
  );
  const chart = Plot.plot({
    width: 845, height: 270,
    marginLeft: 72.3, marginRight: 10, marginTop: 10, marginBottom: o.mb,
    style: {background: "transparent", fontFamily: "Open Sans, sans-serif", fontSize: "15px", color: "#222", overflow: "visible"},
    x: {domain: o.xd, ticks: o.xt, tickSize: 5, tickPadding: 8, label: null, tickFormat: d => String(d)},
    y: {domain: o.yd, ticks: o.yt, tickSize: 5, tickPadding: 5, label: null, tickFormat: d => String(d).replace("-", "\u2212")},
    marks
  });
  document.getElementById(el).appendChild(chart);
}

panel("pA", {aw: A_AW3D30, fab: A_FABDEM, cd: A_CoastalDEM, loc: A_Local, xd: [0, 171.2], xt: A_xTicks, yd: [-2, 13], yt: A_yTicks, mb: 38, left: "A", right: "A\u2019", labDy: 9});
panel("pB", {aw: B_AW3D30, fab: B_FABDEM, cd: B_CoastalDEM, loc: B_Local, xd: [0, 221.5], xt: B_xTicks, yd: [-6, 12], yt: B_yTicks, mb: 36, left: "B", right: "B\u2019", labDy: 11});
panel("pC", {aw: C_AW3D30, fab: C_FABDEM, cd: C_CoastalDEM, ens: C_Ensemble, xd: [0, 7.48], xt: C_xTicks, yd: [-1, 22.1], yt: C_yTicks, mb: 36, left: "C", right: "C\u2019", labDy: 11});

// ---------- legend ----------
const legendItems = [
  {x: 12, y: 948, sym: "line", color: ORANGE, w: 1.5, tx: 41, html: "<b>AW3D30</b> (<b>ALOS</b>; based on optical remote sensing data)"},
  {x: 12, y: 980, sym: "line", color: RED, w: 1.5, tx: 41, html: "<b>FABDEM</b> (based on Copernicus DEM)"},
  {x: 465, y: 980, sym: "line", color: PURPLE, w: 1.5, tx: 496, html: "<b>CoastalDEM v2.1</b> (based on improved SR"},
  {x: 12, y: 1009, sym: "dots", color: BLACK, w: 3, tx: 41, html: "<b>DEM Ensemble</b>"},
  {x: 465, y: 1009, sym: "line", color: BLACK, w: 3.2, tx: 495, html: "<b>Local high-accuracy DEM</b>"},
  {x: 12, y: 1029, sym: null, color: BLACK, tx: 41, html: "(based on FABDEM and CoastalDEM v2.1)"},
  {x: 465, y: 1029, sym: null, color: BLACK, tx: 495, html: "(based on direct measurements)"}
];
const lg = document.getElementById("legend");
for (const it of legendItems) {
  if (it.sym === "line") {
    const s = document.createElement("div");
    s.className = "sym";
    s.style.cssText = `left:${it.x}px;top:${it.y - it.w / 2}px;width:22px;height:${it.w}px;background:${it.color}`;
    lg.appendChild(s);
  } else if (it.sym === "dots") {
    for (let k = 0; k < 3; k++) {
      const s = document.createElement("div");
      s.className = "sym";
      s.style.cssText = `left:${it.x + 2 + k * 9}px;top:${it.y - 1}px;width:3px;height:3px;background:${it.color}`;
      lg.appendChild(s);
    }
  }
  const t = document.createElement("div");
  t.className = "leg";
  t.style.cssText = `left:${it.tx}px;top:${it.y - 10.1}px;color:${it.color}`;
  t.innerHTML = it.html;
  lg.appendChild(t);
}
</script>
</body></html>
